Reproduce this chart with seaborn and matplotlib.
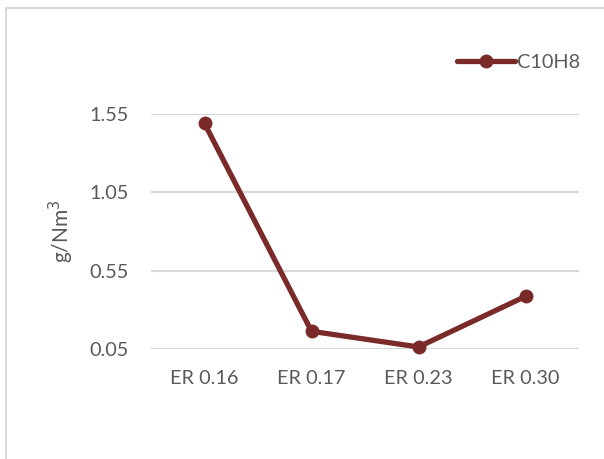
import matplotlib
matplotlib.use("Agg")
import matplotlib.pyplot as plt
from matplotlib.patches import Rectangle
import seaborn as sns
import pandas as pd

# Naphthalene concentration at each equivalence ratio
categories = ["ER 0.16", "ER 0.17", "ER 0.23", "ER 0.30"]
c10h8 = [1.49, 0.163, 0.063, 0.386]
y_ticks = [0.05, 0.55, 1.05, 1.55]
series_name = "C10H8"

df = pd.DataFrame({"ER": categories, "value": c10h8, "series": series_name})

sns.set_theme(style="white")
plt.rcParams["font.family"] = ["Lato", "DejaVu Sans"]

line_color = "#7B2A2A"
text_color = "#595959"
grid_color = "#D9D9D9"
fs = 14.3

fig = plt.figure(figsize=(6.04, 4.59), dpi=100)
ax = fig.add_axes([151 / 604, 1 - 349 / 459, 428 / 604, 235 / 459])

sns.lineplot(data=df, x="ER", y="value", hue="series", palette=[line_color],
             marker="o", markersize=10, markeredgewidth=0, linewidth=3.8,
             sort=False, ax=ax, clip_on=False, zorder=3)

ax.set_xlim(-0.5, len(categories) - 0.5)
ax.set_ylim(y_ticks[0], y_ticks[-1])
ax.set_yticks(y_ticks)
ax.set_yticklabels([f"{t:.2f}" for t in y_ticks])
ax.yaxis.grid(True, color=grid_color, linewidth=1.6, zorder=0)
ax.xaxis.grid(False)
for s in ax.spines.values():
    s.set_visible(False)
ax.tick_params(axis="both", length=0, labelsize=fs, colors=text_color)
ax.tick_params(axis="x", pad=15)
ax.tick_params(axis="y", pad=16)
ax.set_xlabel("")
ax.set_ylabel("g/Nm$^3$", fontsize=15, color=text_color, labelpad=10)

leg = ax.legend(loc="center left", bbox_to_anchor=(457 / 604, 1 - 62 / 459),
                bbox_transform=fig.transFigure, frameon=False, fontsize=fs,
                handlelength=2.9, handletextpad=0.1, borderaxespad=0, borderpad=0)
for t in leg.get_texts():
    t.set_color(text_color)

# Light frame around the chart area
fig.patches.append(Rectangle((6 / 604, -0.1), 1.2, 1 - 8 / 459 + 0.1,
                             transform=fig.transFigure, fill=False,
                             edgecolor="#D9D9D9", linewidth=1.5))

fig.savefig("out.png", dpi=100)
